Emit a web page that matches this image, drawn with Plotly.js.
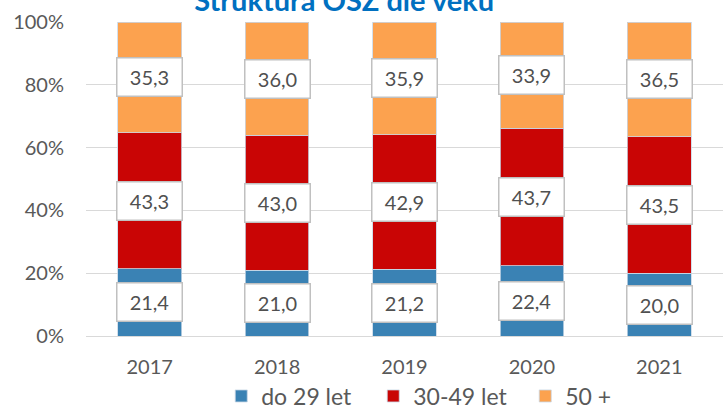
<!DOCTYPE html>
<html>
<head>
<meta charset="utf-8">
<script src="https://cdn.plot.ly/plotly-3.0.1.min.js"></script>
<style>html,body{margin:0;padding:0;background:#fff;}#chart{width:723px;height:406px;}</style>
</head>
<body>
<div id="chart"></div>
<script>
var years = ['2017', '2018', '2019', '2020', '2021'];
var seriesNames = ['do 29 let', '30-49 let', '50 +'];
var young = [21.4, 21.0, 21.2, 22.4, 20.0];
var middle = [43.3, 43.0, 42.9, 43.7, 43.5];
var older = [35.3, 36.0, 35.9, 33.9, 36.5];
var yTickVals = [0, 20, 40, 60, 80, 100];
var yTickText = ['0%', '20%', '40%', '60%', '80%', '100%'];
var titleText = 'Struktura OSZ dle věku';

var colors = ['#3A82B4', '#C90505', '#FCA24F'];
var font = 'Lato, Calibri, sans-serif';
var seriesValues = [young, middle, older];

var traces = seriesValues.map(function (vals, i) {
  return {
    type: 'bar', x: years, y: vals, name: seriesNames[i],
    marker: {color: colors[i], line: {color: 'rgba(200,215,230,0.8)', width: 1}},
    hoverinfo: 'none'
  };
});

var annotations = [];
years.forEach(function (yr, j) {
  var base = 0;
  seriesValues.forEach(function (vals) {
    var v = vals[j];
    annotations.push({
      x: j, y: base + v / 2, xref: 'x', yref: 'y',
      text: v.toFixed(1).replace('.', ','), showarrow: false,
      font: {family: font, size: 20, color: '#505050'},
      bgcolor: '#ffffff', bordercolor: '#c0c0c0', borderwidth: 1.5, borderpad: 0,
      width: 64, height: 37, align: 'center', valign: 'middle'
    });
    base += v;
  });
});

var layout = {
  width: 723, height: 406,
  margin: {l: 86, r: 0, t: 22, b: 70},
  paper_bgcolor: '#ffffff', plot_bgcolor: '#ffffff',
  barmode: 'stack', bargap: 0.5,
  title: {text: titleText, font: {family: font, size: 29, color: '#0070C0', weight: 'bold'},
          x: 0.476, xanchor: 'center', y: 0.9968, yref: 'container', yanchor: 'middle'},
  xaxis: {type: 'category', range: [-0.5, 4.5], tickfont: {family: font, size: 20, color: '#595959'},
          showgrid: false, showline: false, ticks: '', zeroline: false, ticklabelstandoff: 17,
          automargin: false},
  yaxis: {range: [0, 100], tickvals: yTickVals, ticktext: yTickText,
          tickfont: {family: font, size: 20, color: '#595959'},
          showgrid: true, gridcolor: '#d9d9d9', gridwidth: 1, zeroline: true, zerolinecolor: '#d9d9d9',
          showline: false, ticks: '', ticklabelstandoff: 21, automargin: false},
  showlegend: true,
  legend: {orientation: 'h', x: 0.306, xref: 'container', xanchor: 'left',
           y: 0.0246, yref: 'container', yanchor: 'middle', bgcolor: 'rgba(0,0,0,0)',
           font: {family: font, size: 23, color: '#595959'}, traceorder: 'normal',
           entrywidth: 107, itemwidth: 30},
  annotations: annotations
};

Plotly.newPlot('chart', traces, layout, {displayModeBar: false, staticPlot: true});
</script>
</body>
</html>
